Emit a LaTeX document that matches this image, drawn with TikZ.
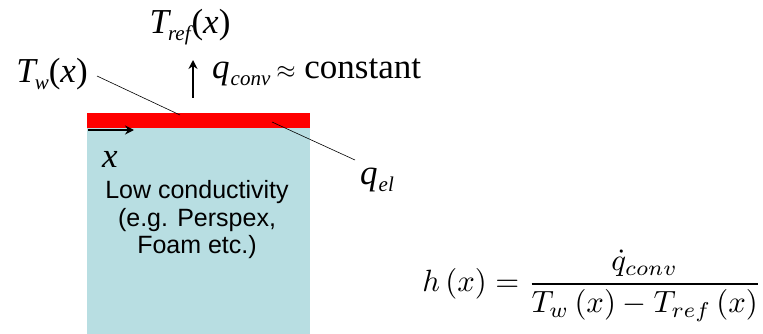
\documentclass[tikz,border=0pt]{standalone}
\usepackage{fontspec}
\setmainfont{Liberation Serif}
\newfontfamily\lsans{Liberation Sans}
\usetikzlibrary{arrows.meta}
\definecolor{boxblue}{RGB}{184,222,226}
\definecolor{stripred}{RGB}{255,0,0}
\newcommand{\bigT}{\fontsize{35}{40}\selectfont}
\newcommand{\subsz}{\fontsize{21}{21}\selectfont}
\newcommand{\mysub}[1]{\raisebox{-7pt}{\subsz\itshape #1}}
\tikzset{
  lbl/.style={inner sep=0pt, anchor=center},
  leader/.style={draw=black, line width=0.6pt},
  fatarrow/.style={line width=2pt, -{Stealth[length=9pt,width=9pt]}},
}
\begin{document}
\begin{tikzpicture}[x=1pt,y=-1pt]
\useasboundingbox (0,0) rectangle (763,334);
% block
\fill[boxblue] (87,127) rectangle (310,334);
\fill[stripred] (87,113) rectangle (310,128);
\coordinate (xs) at (88,130);
\coordinate (xe) at (134,130);
\draw[fatarrow] (xs) -- (xe);
\node[lbl] (xl) at (110,159) {\bigT\itshape x};
\node[lbl, align=center, font=\lsans\fontsize{25}{27.5}\selectfont] (mat) at (197,220) {Low conductivity\\(e.g. Perspex,\\Foam etc.)};
% labels
\node[lbl] (tref) at (190,27) {\bigT\itshape T\kern-1pt\mysub{ref}\kern1pt\upshape(\itshape x\upshape)};
\node[lbl] (tw) at (52,74) {\bigT\itshape T\kern-1pt\mysub{w}\upshape(\itshape x\upshape)};
\node[lbl, anchor=west] (qc) at (212,72) {\bigT\itshape q\kern1pt\mysub{conv}\kern6pt\upshape$\approx$ constant};
\node[lbl] (qel) at (377,180) {\bigT\itshape q\kern1pt\mysub{el}};
% heat flux arrow
\coordinate (ab) at (193,98);
\coordinate (at) at (193,60);
\draw[fatarrow] (ab) -- (at);
% leaders
\coordinate (twend) at (180,115);
\coordinate (qelend) at (272,122);
\draw[leader] (97,76) -- (twend);
\draw[leader] (qelend) -- (355,160);
% equation
\node[lbl] (eq) at (592,286) {\resizebox{339pt}{!}{$\displaystyle h\left(x\right)=\frac{\dot{q}_{conv}}{T_w\left(x\right)-T_{ref}\left(x\right)}$}};
\end{tikzpicture}
\end{document}
